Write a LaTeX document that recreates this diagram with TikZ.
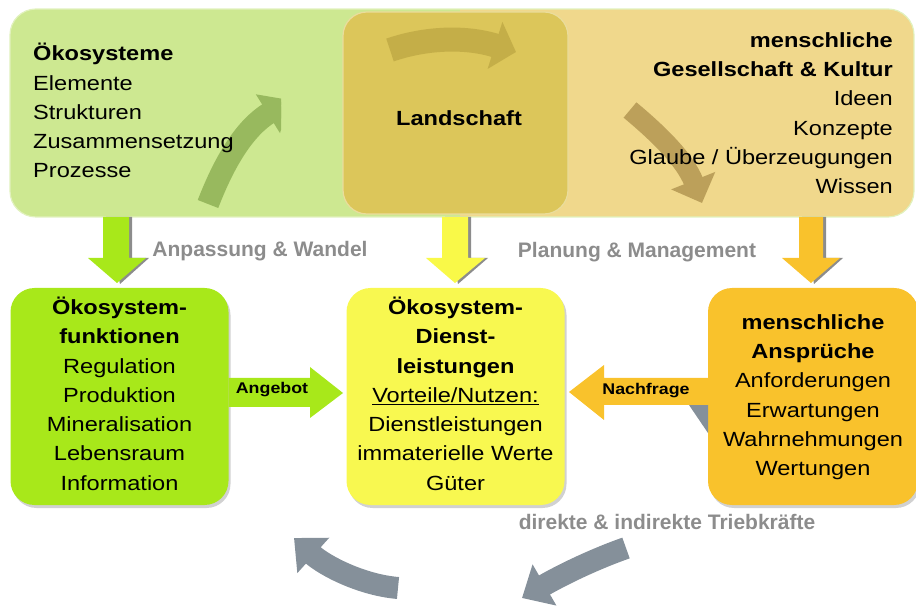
\documentclass[tikz,border=0pt]{standalone}
\usepackage{fontspec}
\setmainfont[FakeStretch=1.15]{Liberation Sans}
\newfontfamily\lblfont{Liberation Sans}
\usetikzlibrary{arrows.meta,shadows}
\definecolor{bandgreen}{HTML}{CDE891}
\definecolor{bandtan}{HTML}{F0D88C}
\definecolor{landcol}{HTML}{DCC65A}
\definecolor{boxgreen}{HTML}{A8E81A}
\definecolor{boxyellow}{HTML}{F8F850}
\definecolor{boxorange}{HTML}{F9C22C}
\definecolor{lblgray}{HTML}{8C8C8C}
\definecolor{arrgreen}{HTML}{98B95E}
\definecolor{arrland}{HTML}{C4AE48}
\definecolor{arrtan}{HTML}{BCA05A}
\definecolor{arrgray}{HTML}{85909A}
\begin{document}
\begin{tikzpicture}[x=1pt,y=-1pt,
  txt/.style={inner sep=0pt, font=\fontsize{20.5}{29.3}\selectfont},
  bbox/.style={rounded corners=24pt, minimum width=218pt, minimum height=217pt,
     align=center, inner sep=0pt, font=\fontsize{20.5}{29.3}\selectfont,
     drop shadow={shadow xshift=2pt,shadow yshift=-3pt,opacity=.3,fill=black!60}},
  glabel/.style={inner sep=0pt, text=lblgray, font=\lblfont\bfseries\fontsize{21}{25}\selectfont},
  alabel/.style={inner sep=0pt, font=\bfseries\fontsize{15.5}{18}\selectfont},
  curvarr/.style={line width=22pt, -{Triangle[width=44pt,length=26pt]}},
  downarr/.style={draw=none}
]
\useasboundingbox (0,0) rectangle (916,609);

% top band
\begin{scope}
\path[clip, rounded corners=26pt] (10,9) rectangle (914,217);
\fill[bandgreen] (10,9) rectangle (460,217);
\fill[bandtan] (460,9) rectangle (914,217);
\end{scope}
\draw[white!40!bandgreen, line width=1.2pt, rounded corners=26pt] (10,9) rectangle (914,217);

% green curved arrow (clipped)
\begin{scope}
\clip (0,0) rectangle (281,220);
\draw[arrgreen, curvarr] (208,204) .. controls (225,160) and (245,128) .. (290,100);
\end{scope}

% brown curved arrow on tan part
\draw[arrtan, line width=20pt, -{Triangle[width=46pt,length=24pt]}] (630,110) .. controls (660,135) and (685,160) .. (702,203);

% Landschaft box
\node[rounded corners=24pt, minimum width=225pt, minimum height=202pt, fill=landcol,
      draw=landcol!60!white, line width=1.2pt] (land) at (455.5,113) {};
\draw[arrland, line width=24pt, -{Triangle[width=48pt,length=22pt]}] (390,50) .. controls (425,38) and (465,36) .. (516,52);
\node[txt, font=\bfseries\fontsize{20.5}{29.3}\selectfont] (landtxt) at (459,118) {Landschaft};

% top texts
\node[txt, anchor=west, align=left] (oeko) at (33,113.5)
 {\textbf{Ökosysteme}\strut\\Elemente\strut\\Strukturen\strut\\Zusammensetzung\strut\\Prozesse\strut};
\node[txt, anchor=east, align=right] (mensch) at (893,114.5)
 {\textbf{menschliche}\strut\\\textbf{Gesellschaft \& Kultur}\strut\\Ideen\strut\\Konzepte\strut\\Glaube / Überzeugungen\strut\\Wissen\strut};

% down arrows
\fill[black!45] (106,217) -- (132,217) -- (132,258) -- (149,258) -- (120,284) -- cycle;
\fill[boxgreen] (103,217) -- (129,217) -- (129,258) -- (146,258) -- (117,283) -- (88,258) -- (103,258) -- cycle;
\fill[black!45] (445,217) -- (471,217) -- (471,258) -- (488,258) -- (458,284) -- cycle;
\fill[boxyellow!90!yellow] (442,217) -- (468,217) -- (468,258) -- (485,258) -- (455,283) -- (426,258) -- (442,258) -- cycle;
\fill[black!45] (802,217) -- (826,217) -- (826,258) -- (843,258) -- (814,284) -- cycle;
\fill[boxorange] (799,217) -- (823,217) -- (823,258) -- (840,258) -- (811,283) -- (782,258) -- (799,258) -- cycle;

% gray labels
\node[glabel] (anp) at (260,251) {Anpassung \& Wandel};
\node[glabel] (plan) at (637,252) {Planung \& Management};
\node[glabel] (trieb) at (667,522) {direkte \& indirekte Triebkräfte};

% bottom boxes
\node[bbox, fill=boxgreen] (fkt) at (119.5,396.5)
 {\textbf{Ökosystem-}\strut\\\textbf{funktionen}\strut\\Regulation\strut\\Produktion\strut\\Mineralisation\strut\\Lebensraum\strut\\Information\strut};
\node[bbox, fill=boxyellow] (dl) at (455.5,396.5)
 {\textbf{Ökosystem-}\strut\\\textbf{Dienst-}\strut\\\textbf{leistungen}\strut\\\underline{Vorteile/Nutzen:}\strut\\Dienstleistungen\strut\\immaterielle Werte\strut\\Güter\strut};
\node[bbox, fill=boxorange, minimum width=210pt] (ansp) at (813,396.5)
 {\textbf{menschliche}\strut\\\textbf{Ansprüche}\strut\\Anforderungen\strut\\Erwartungen\strut\\Wahrnehmungen\strut\\Wertungen\strut};

% Angebot arrow
\fill[boxgreen] (fkt.east |- 0,378) -- (310,378) -- (310,367) -- (343,393) -- (310,418) -- (310,407) -- (fkt.east |- 0,407) -- cycle;
\node[alabel] (ang) at (272,390) {Angebot};

% Nachfrage arrow
\fill[arrgray] (689,405) -- (708,405) -- (708,433) -- cycle;
\fill[boxorange] (ansp.west |- 0,378) -- (604,378) -- (604,365) -- (569,392) -- (604,420) -- (604,405) -- (ansp.west |- 0,405) -- cycle;
\node[alabel] (nach) at (646,391) {Nachfrage};

% bottom gray curved arrows
\draw[arrgray, line width=22pt, -{Triangle[width=46pt,length=26pt]}] (398,588) .. controls (362,585) and (325,566) .. (294,538);
\draw[arrgray, line width=22pt, -{Triangle[width=46pt,length=26pt]}] (626,548) .. controls (592,560) and (560,576) .. (522,598);
\end{tikzpicture}
\end{document}
